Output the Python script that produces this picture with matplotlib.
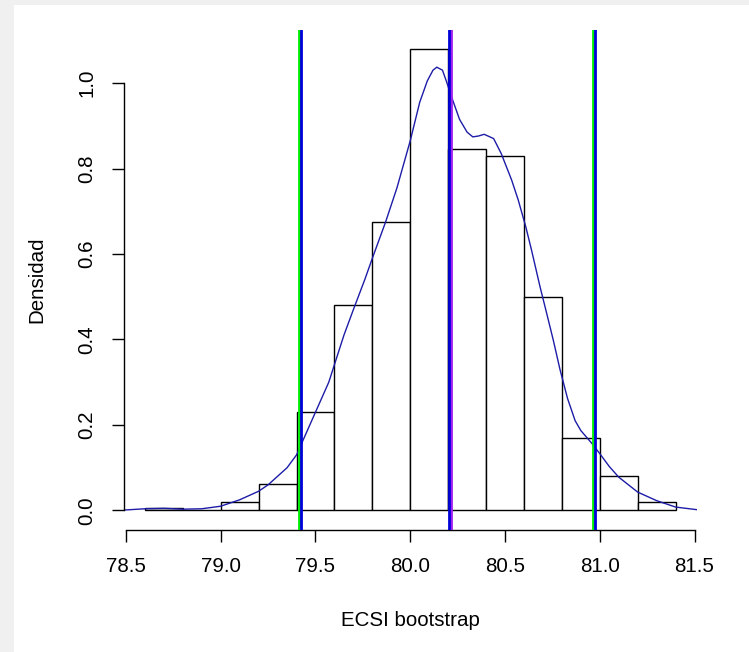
import numpy as np
import matplotlib
matplotlib.use("Agg")
import matplotlib.pyplot as plt
from matplotlib.patches import Rectangle

plt.rcParams['font.family'] = ['Liberation Sans', 'DejaVu Sans']

# histogram (density) of bootstrap ECSI values, bins of width 0.2
bin_left = [78.6, 78.8, 79.0, 79.2, 79.4, 79.6, 79.8, 80.0, 80.2, 80.4, 80.6, 80.8, 81.0, 81.2]
bin_density = [0.005, 0.002, 0.02, 0.063, 0.23, 0.48, 0.675, 1.08, 0.845, 0.83, 0.50, 0.17, 0.08, 0.02]

# kernel density curve
kde_x = [78.49, 78.6, 78.7, 78.8, 78.9, 79.0, 79.1, 79.2, 79.25, 79.3, 79.35, 79.4, 79.45,
         79.5, 79.57, 79.65, 79.7, 79.76, 79.8, 79.87, 79.93, 80.0, 80.05, 80.09, 80.12,
         80.14, 80.17, 80.19, 80.22, 80.26, 80.3, 80.33, 80.36, 80.39, 80.44, 80.48, 80.535,
         80.57, 80.61, 80.64, 80.685, 80.72, 80.755, 80.79, 80.83, 80.87, 80.9, 80.96, 81.0,
         81.05, 81.1, 81.2, 81.3, 81.4, 81.51]
kde_y = [0.001, 0.004, 0.005, 0.003, 0.004, 0.01, 0.025, 0.045, 0.06, 0.08, 0.10, 0.13, 0.18,
         0.23, 0.30, 0.41, 0.47, 0.54, 0.59, 0.675, 0.755, 0.865, 0.955, 1.005, 1.03,
         1.037, 1.03, 1.005, 0.965, 0.915, 0.885, 0.874, 0.876, 0.88, 0.87, 0.835, 0.773,
         0.726, 0.663, 0.609, 0.523, 0.461, 0.398, 0.33, 0.262, 0.21, 0.187, 0.156, 0.133,
         0.103, 0.078, 0.043, 0.023, 0.008, 0.002]

# interval limits and centre
ci_green = [79.411, 80.962]
ci_blue = [79.425, 80.975]
centre_purple = 80.215
centre_blue = 80.202

xticks = [78.5, 79.0, 79.5, 80.0, 80.5, 81.0, 81.5]
yticks = [0.0, 0.2, 0.4, 0.6, 0.8, 1.0]

W, H = 749, 652
fig = plt.figure(figsize=(W / 100, H / 100), dpi=100, facecolor='#f0f0f0')
fig.patches.append(Rectangle((14 / W, 0), 1 - 14 / W, 1 - 5 / H, transform=fig.transFigure,
                             facecolor='white', edgecolor='none', zorder=-10))

left, right, top, bottom = 123.7, 696.8, 30, 529.5
ax = fig.add_axes([left / W, 1 - bottom / H, (right - left) / W, (bottom - top) / H])
ax.set_facecolor('none')

ax.bar(bin_left, bin_density, width=0.2, align='edge', facecolor='white',
       edgecolor='black', linewidth=1.0, zorder=1)
ax.plot(kde_x, kde_y, color='#1c1ca8', linewidth=1.0, zorder=2)

lw = 2.0
for v in ci_green:
    ax.axvline(v, color='#00ee00', linewidth=lw, zorder=3)
ax.axvline(centre_purple, color='#a020f0', linewidth=lw, zorder=3)
for v in ci_blue + [centre_blue]:
    ax.axvline(v, color='#0000d8', linewidth=lw, zorder=4)

ax.set_xlim(78.488, 81.512)
ax.set_ylim(-0.0445, 1.124)

for s in ['top', 'right']:
    ax.spines[s].set_visible(False)
ax.spines['left'].set_bounds(0, 1.0)
ax.spines['bottom'].set_bounds(78.5, 81.5)
for s in ['left', 'bottom']:
    ax.spines[s].set_linewidth(1.0)

ax.set_xticks(xticks)
ax.set_xticklabels([f"{t:.1f}" for t in xticks])
ax.set_yticks(yticks)
ax.set_yticklabels([f"{t:.1f}" for t in yticks], rotation=90, va='center')
ax.tick_params(axis='both', length=8.5, width=1.0, labelsize=14.8, colors='black')
ax.tick_params(axis='x', pad=11)
ax.tick_params(axis='y', pad=11)

ax.set_xlabel('ECSI bootstrap', fontsize=14.8)
ax.set_ylabel('Densidad', fontsize=14.8)
ax.xaxis.set_label_coords(0.5, (bottom - 620) / (bottom - top))
ax.yaxis.set_label_coords((37 - left) / (right - left), 0.5)
ax.xaxis.label.set_va('center')
ax.yaxis.label.set_va('center')

fig.savefig('out.png', dpi=100, facecolor=fig.get_facecolor())
